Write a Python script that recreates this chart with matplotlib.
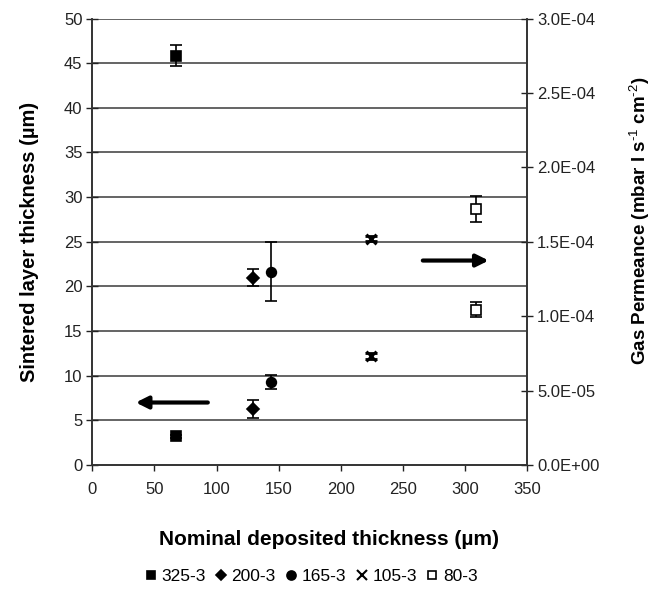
import matplotlib
matplotlib.use("Agg")
import matplotlib.pyplot as plt
from matplotlib.lines import Line2D

plt.rcParams['font.family'] = ['Liberation Sans', 'DejaVu Sans']
plt.rcParams['mathtext.fontset'] = 'custom'
plt.rcParams['mathtext.rm'] = 'Liberation Sans'
plt.rcParams['mathtext.bf'] = 'Liberation Sans:bold'

series = ["325-3", "200-3", "165-3", "105-3", "80-3"]
nominal = [67, 129, 144, 224, 309]
thickness = [3.2, 6.3, 9.3, 12.2, 17.4]
thickness_err = [0.15, 1.0, 0.75, 0.3, 0.85]
permeance = [2.75e-4, 1.26e-4, 1.30e-4, 1.52e-4, 1.72e-4]
permeance_err = [6.9e-6, 5.7e-6, 2.0e-5, 1.8e-6, 9.0e-6]
right_ticks = [0.0, 5e-5, 1e-4, 1.5e-4, 2e-4, 2.5e-4, 3e-4]
right_labels = ["0.0E+00", "5.0E-05", "1.0E-04", "1.5E-04", "2.0E-04", "2.5E-04", "3.0E-04"]
markers = ["s", "D", "o", "x", "s"]
facecolors = ["black", "black", "black", "black", "white"]
msizes = [6.5, 6, 7, 7, 6.5]

fig = plt.figure(figsize=(6.59, 5.89), dpi=100)
ax = fig.add_axes([0.140, 0.2105, 0.660, 0.758])
ax2 = ax.twinx()

ax.set_xlim(0, 350)
ax.set_ylim(0, 50)
ax2.set_ylim(0, 3e-4)
ax.set_xticks(range(0, 351, 50))
ax.set_yticks(range(0, 51, 5))
ax2.set_yticks(right_ticks)
ax2.set_yticklabels(right_labels)

for y in range(5, 51, 5):
    ax.axhline(y, color="#3a3a3a", lw=1.1, zorder=0)

for a in (ax, ax2):
    a.spines["top"].set_visible(False)
    for s in ("left", "right", "bottom"):
        a.spines[s].set_color("#333333")
        a.spines[s].set_linewidth(1.2)

ax.tick_params(axis="y", direction="inout", length=8, width=1, labelsize=12, colors="#222222", pad=3)
ax.tick_params(axis="x", direction="out", length=4, width=1, labelsize=12, colors="#222222", pad=8)
ax2.tick_params(axis="y", direction="inout", length=8, width=1, labelsize=12, colors="#222222", pad=3)

handles = []
for i in range(len(series)):
    kw = dict(fmt=markers[i], color="black", mfc=facecolors[i], mec="black",
              ms=msizes[i], ecolor="black", elinewidth=1.2, capsize=4.5, capthick=1.2,
              mew=1.2 if markers[i] != "x" else 2)
    ax.errorbar(nominal[i], thickness[i], yerr=thickness_err[i], **kw)
    ax2.errorbar(nominal[i], permeance[i], yerr=permeance_err[i], **kw)
    handles.append(Line2D([], [], ls="none", marker=markers[i], mfc=facecolors[i],
                          mec="black", color="black", ms=msizes[i] - 0.5,
                          mew=1.2 if markers[i] != "x" else 1.5, label=series[i]))

ax.annotate("", xy=(35, 7.0), xytext=(93, 7.0),
            arrowprops=dict(arrowstyle="-|>", lw=3, color="black", mutation_scale=18,
                            shrinkA=0, shrinkB=0))
ax.annotate("", xy=(319, 22.9), xytext=(266, 22.9),
            arrowprops=dict(arrowstyle="-|>", lw=3, color="black", mutation_scale=18,
                            shrinkA=0, shrinkB=0))

ax.set_xlabel("Nominal deposited thickness (µm)", fontsize=15, fontweight="bold")
ax.xaxis.set_label_coords(0.544, -0.145)
ax.set_ylabel("Sintered layer thickness (µm)", fontsize=14.5, fontweight="bold", labelpad=18)
ax2.set_ylabel("Gas Permeance (mbar l s$^{\u2010\\mathrm{1}}$ cm$^{\u2010\\mathrm{2}}$)", fontsize=13.5,
               fontweight="bold")
ax2.yaxis.set_label_coords(1.231, 0.548)

fig.legend(handles=handles, loc="center", bbox_to_anchor=(0.47, 0.021), ncol=5,
           frameon=False, fontsize=12.5, handletextpad=0.1, columnspacing=0.4,
           handlelength=1.0, borderpad=0)

fig.savefig("out.png", dpi=100)
